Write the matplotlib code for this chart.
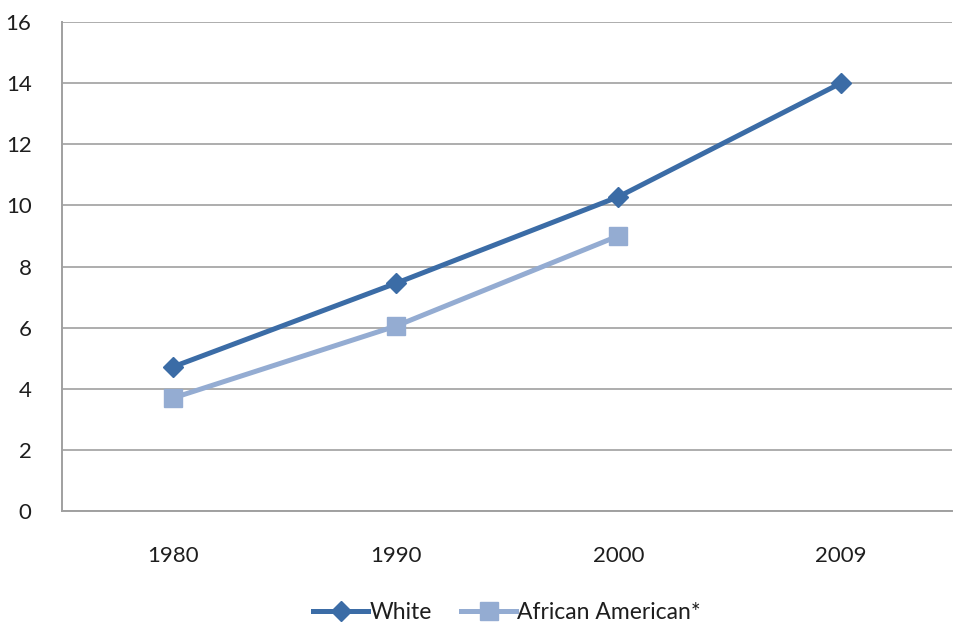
import matplotlib
matplotlib.use("Agg")
import matplotlib.pyplot as plt

years = ["1980", "1990", "2000", "2009"]
white = [4.72, 7.45, 10.28, 14.0]
african_american = [3.7, 6.05, 9.0]
y_ticks = [0, 2, 4, 6, 8, 10, 12, 14, 16]

plt.rcParams["font.family"] = ["Lato", "DejaVu Sans"]

fig = plt.figure(figsize=(9.56, 6.24), dpi=100)
ax = fig.add_axes([0.0649, 0.1811, 0.931, 0.7836])

x = list(range(len(years)))
ax.plot(x, white, color="#3B6CA6", lw=3.6, marker="D", ms=10,
        mec="#3B6CA6", mfc="#3B6CA6", label="White", zorder=3)
ax.plot(x[:len(african_american)], african_american, color="#94ACD2", lw=3.6,
        marker="s", ms=12.5, mec="#94ACD2", mfc="#94ACD2",
        label="African American*", zorder=3)

ax.set_xlim(-0.5, len(years) - 0.5)
ax.set_ylim(0, 16)
ax.set_yticks(y_ticks)
ax.set_xticks(x)
ax.set_xticklabels(years)
ax.yaxis.grid(True, color="#A0A0A0", lw=1.2)
ax.set_axisbelow(True)
for side in ["top", "right"]:
    ax.spines[side].set_visible(False)
for side in ["left", "bottom"]:
    ax.spines[side].set_color("#A0A0A0")
    ax.spines[side].set_linewidth(1.4)
ax.tick_params(axis="both", length=0, labelsize=16, colors="#1E1E1E")
ax.tick_params(axis="y", pad=22)
ax.tick_params(axis="x", pad=25)

# legend sits just above the bottom edge of the figure
ax.legend(loc="lower center", bbox_to_anchor=(0.5, -0.258), ncol=2,
          frameon=False, fontsize=16.5, handlelength=2.4, handletextpad=0.05,
          columnspacing=1.3, labelcolor="#1E1E1E", borderpad=0.1)

fig.savefig("out.png", dpi=100)
